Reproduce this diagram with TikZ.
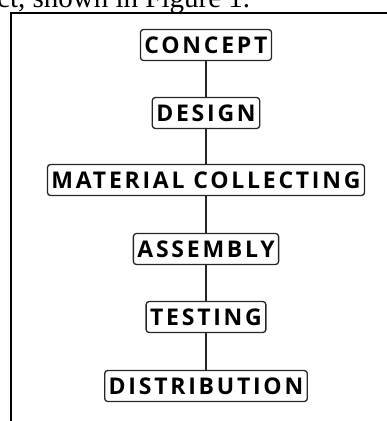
\documentclass[tikz,border=0pt]{standalone}
\usepackage{fontspec}
\setmainfont{Liberation Serif}
\newfontfamily\stagefont[LetterSpace=12,BoldFont={* Bold}]{Open Sans}
\usetikzlibrary{positioning}

\tikzset{
  stagebox/.style={draw=black!85,line width=1.3pt,rounded corners=3pt,fill=white,
    font=\stagefont\bfseries\fontsize{23}{23}\selectfont,inner xsep=4pt,inner ysep=0pt,
    minimum height=31pt,text height=16.5pt,text depth=0pt},
  link/.style={draw=black!85,line width=1.2pt}
}

\begin{document}
\begin{tikzpicture}[x=1pt,y=-1pt]
\useasboundingbox (0,0) rectangle (387,421);
\clip (0,0) rectangle (387,421);

% running text above the frame
\node[anchor=base west,inner sep=0pt,font=\fontsize{29}{29}\selectfont] (caption) at (-3,7) {ct, shown in Figure 1.};

% frame
\draw[line width=2pt] (11,421) -- (11,13) -- (387,13);

\node[stagebox] (concept) at (206,45) {CONCEPT};
\node[stagebox] (design) at (206,113) {DESIGN};
\node[stagebox] (material) at (206,180) {MATERIAL COLLECTING};
\node[stagebox] (assembly) at (206,249) {ASSEMBLY};
\node[stagebox] (testing) at (206,317) {TESTING};
\node[stagebox] (distribution) at (206,386) {DISTRIBUTION};

\draw[link] (concept) -- (design);
\draw[link] (design) -- (material);
\draw[link] (material) -- (assembly);
\draw[link] (assembly) -- (testing);
\draw[link] (testing) -- (distribution);
\end{tikzpicture}
\end{document}
